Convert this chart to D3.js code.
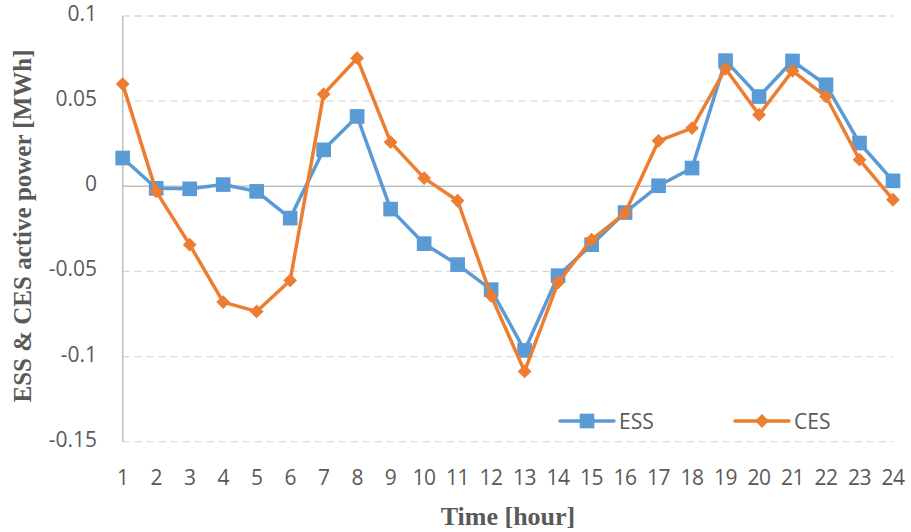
<!DOCTYPE html>
<html>
<head>
<meta charset="utf-8">
<script src="https://cdn.jsdelivr.net/npm/d3@7"></script>
<style>
  body { margin: 0; background: #fff; }
  svg { display: block; }
</style>
</head>
<body>
<svg id="chart" width="911" height="532"></svg>
<script>
// hours on the x axis
let hours = d3.range(1, 25);
// ESS active power per hour [MWh]
let ess = [0.0166, -0.0012, -0.0015, 0.001, -0.003, -0.0187, 0.0214, 0.041,
           -0.0134, -0.0337, -0.046, -0.0607, -0.0964, -0.0525, -0.0343, -0.0154,
           0.0003, 0.0107, 0.0738, 0.0527, 0.0736, 0.0596, 0.0254, 0.0032];
// CES active power per hour [MWh]
let ces = [0.06, -0.003, -0.0343, -0.068, -0.0735, -0.0553, 0.0541, 0.0752,
           0.0259, 0.0048, -0.0085, -0.0643, -0.1087, -0.0565, -0.0314, -0.0157,
           0.0267, 0.0342, 0.069, 0.042, 0.0678, 0.0527, 0.0156, -0.0079];
let yTicks = [0.1, 0.05, 0, -0.05, -0.1, -0.15];
let seriesNames = ["ESS", "CES"];

let svg = d3.select("#chart");
let colors = {ESS: "#5B9BD5", CES: "#ED7D31"};
let tickFont = "'Open Sans', sans-serif";

let x = d3.scalePoint().domain(hours).range([122.7, 893]);
let y = d3.scaleLinear().domain([-0.15, 0.1]).range([441.7, 16]);

// gridlines
let grid = svg.append("g");
yTicks.forEach(t => {
    grid.append("line")
        .attr("x1", 122.7).attr("x2", 893)
        .attr("y1", y(t)).attr("y2", y(t))
        .attr("stroke", t === 0 ? "#BFBFBF" : "#D9D9D9")
        .attr("stroke-width", t === 0 ? 1.5 : 1.3)
        .attr("stroke-dasharray", t === 0 ? null : "7,5");
});
// left axis line
svg.append("line")
    .attr("x1", 122.7).attr("x2", 122.7)
    .attr("y1", y(0.1)).attr("y2", y(-0.15))
    .attr("stroke", "#BFBFBF").attr("stroke-width", 1.5);

// y tick labels
svg.append("g").selectAll("text")
    .data(yTicks).enter().append("text")
    .attr("x", 97).attr("y", d => y(d) - 3)
    .attr("text-anchor", "end")
    .attr("dominant-baseline", "central")
    .style("font-family", tickFont).style("font-size", "21px")
    .style("fill", "#595959")
    .text(d => d);

// x tick labels
svg.append("g").selectAll("text")
    .data(hours).enter().append("text")
    .attr("x", d => x(d)).attr("y", 477)
    .attr("text-anchor", "middle")
    .attr("dominant-baseline", "central")
    .style("font-family", tickFont).style("font-size", "21px")
    .style("letter-spacing", "-0.5px")
    .style("fill", "#595959")
    .text(d => d);

// axis titles
svg.append("text")
    .attr("x", 508).attr("y", 516)
    .attr("text-anchor", "middle").attr("dominant-baseline", "central")
    .style("font-family", "'Liberation Serif', serif").style("font-weight", "bold")
    .style("font-size", "26px").style("fill", "#595959")
    .text("Time [hour]");
svg.append("text")
    .attr("transform", "translate(22,226) rotate(-90)")
    .attr("text-anchor", "middle").attr("dominant-baseline", "central")
    .style("font-family", "'Liberation Serif', serif").style("font-weight", "bold")
    .style("font-size", "25px").style("fill", "#595959")
    .text("ESS & CES active power [MWh]");

let line = d3.line().x((d, i) => x(hours[i])).y(d => y(d));
let square = d3.symbol().type(d3.symbolSquare).size(215);
let diamond = d3.symbol().type(d3.symbolSquare).size(95);

function drawSeries(name, values, sym, rot) {
    let g = svg.append("g");
    g.append("path")
        .datum(values)
        .attr("d", line)
        .attr("fill", "none")
        .attr("stroke", colors[name])
        .attr("stroke-width", 3.5)
        .attr("stroke-linejoin", "round");
    g.selectAll(".m").data(values).enter().append("path")
        .attr("transform", (d, i) => "translate(" + x(hours[i]) + "," + y(d) + ") rotate(" + rot + ")")
        .attr("d", sym)
        .attr("fill", colors[name]);
}
drawSeries("ESS", ess, square, 0);
drawSeries("CES", ces, diamond, 45);

// legend
let legX = {ESS: 560, CES: 735};
seriesNames.forEach(name => {
    let g = svg.append("g").attr("transform", "translate(" + legX[name] + ",421)");
    g.append("line").attr("x1", 0).attr("x2", 54)
        .attr("stroke", colors[name]).attr("stroke-width", 3.5)
        .attr("stroke-linecap", "round");
    g.append("path").attr("transform", "translate(27,0) rotate(" + (name === "ESS" ? 0 : 45) + ")")
        .attr("d", name === "ESS" ? square : diamond)
        .attr("fill", colors[name]);
    g.append("text").attr("x", 59).attr("y", 0)
        .attr("dominant-baseline", "central")
        .style("font-family", tickFont).style("font-size", "21px")
        .style("fill", "#595959")
        .text(name);
});
</script>
</body>
</html>
